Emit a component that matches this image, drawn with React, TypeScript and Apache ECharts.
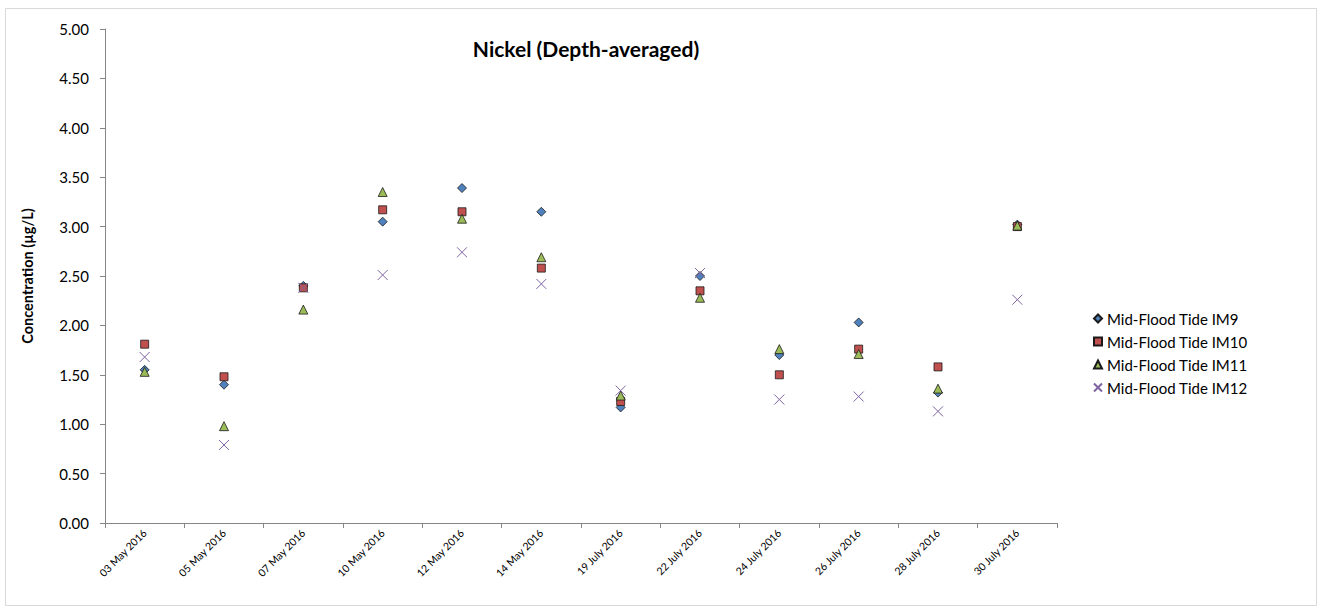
import React, { useEffect, useRef } from "react";
import * as echarts from "echarts";

const categories = [
  "03 May 2016", "05 May 2016", "07 May 2016", "10 May 2016", "12 May 2016", "14 May 2016",
  "19 July 2016", "22 July 2016", "24 July 2016", "26 July 2016", "28 July 2016", "30 July 2016",
];
const im9 = [1.55, 1.40, 2.40, 3.05, 3.39, 3.15, 1.17, 2.50, 1.70, 2.03, 1.32, 3.02];
const im10 = [1.81, 1.48, 2.38, 3.17, 3.15, 2.58, 1.23, 2.35, 1.50, 1.76, 1.58, 3.00];
const im11 = [1.53, 0.98, 2.16, 3.35, 3.08, 2.69, 1.29, 2.28, 1.76, 1.71, 1.36, 3.01];
const im12 = [1.68, 0.79, 2.38, 2.51, 2.74, 2.42, 1.34, 2.53, 1.25, 1.28, 1.13, 2.26];
const seriesNames = ["Mid-Flood Tide IM9", "Mid-Flood Tide IM10", "Mid-Flood Tide IM11", "Mid-Flood Tide IM12"];

const FONT = "Lato, 'Open Sans', sans-serif";

export default function App() {
  const ref = useRef<HTMLDivElement>(null);
  useEffect(() => {
    if (!ref.current) return;
    const chart = echarts.init(ref.current, undefined, { renderer: "svg" });
    const base = { type: "scatter", emphasis: { disabled: true } };
    chart.setOption({
      animation: false,
      backgroundColor: "#ffffff",
      textStyle: { fontFamily: FONT },
      title: {
        text: "Nickel (Depth-averaged)",
        left: 581,
        top: 33,
        textAlign: "center",
        textStyle: { fontFamily: FONT, fontSize: 21, fontWeight: "bold", color: "#000" },
      },
      grid: { left: 105, right: 1320 - 1057, top: 29, bottom: 609 - 523, containLabel: false },
      xAxis: {
        type: "category",
        data: categories,
        boundaryGap: true,
        axisLine: { lineStyle: { color: "#868686", width: 1 } },
        axisTick: { show: true, length: 5, lineStyle: { color: "#868686" } },
        axisLabel: { rotate: 45, fontSize: 10.5, color: "#000", fontFamily: FONT, margin: 8, interval: 0 },
        splitLine: { show: false },
      },
      yAxis: {
        type: "value",
        min: 0,
        max: 5,
        interval: 0.5,
        name: "Concentration (µg/L)",
        nameLocation: "middle",
        nameGap: 70,
        nameTextStyle: { fontFamily: FONT, fontSize: 14.5, fontWeight: "bold", color: "#000" },
        axisLine: { show: true, lineStyle: { color: "#868686", width: 1 } },
        axisTick: { show: true, length: 5, lineStyle: { color: "#868686" } },
        axisLabel: { formatter: (v: number) => v.toFixed(2), fontSize: 15, color: "#000", fontFamily: FONT, margin: 16 },
        splitLine: { show: false },
      },
      legend: {
        orient: "vertical",
        left: 1088,
        top: 306,
        itemWidth: 8,
        itemHeight: 8,
        itemGap: 8,
        textStyle: { fontFamily: FONT, fontSize: 15, color: "#000", lineHeight: 15, padding: [0, 0, 0, 0] },
        data: seriesNames,
      },
      series: [
        {
          ...base,
          name: seriesNames[0],
          data: im9,
          symbol: "diamond",
          symbolSize: 9,
          itemStyle: { color: "#4F81BD", borderColor: "#1a1a1a", borderWidth: 0.8, opacity: 1 },
        },
        {
          ...base,
          name: seriesNames[1],
          data: im10,
          symbol: "rect",
          symbolSize: 8,
          itemStyle: { color: "#C0504D", borderColor: "#1a1a1a", borderWidth: 0.8, opacity: 1 },
        },
        {
          ...base,
          name: seriesNames[2],
          data: im11,
          symbol: "triangle",
          symbolSize: 9,
          itemStyle: { color: "#9BBB59", borderColor: "#1a1a1a", borderWidth: 0.8, opacity: 1 },
        },
        {
          ...base,
          name: seriesNames[3],
          data: im12,
          symbol: "path://M0,0L10,10M10,0L0,10",
          symbolSize: 10,
          itemStyle: { color: "rgba(0,0,0,0)", borderColor: "#8064A2", borderWidth: 1, opacity: 1 },
        },
      ],
      graphic: [
        {
          type: "rect",
          shape: { x: 5.5, y: 8.5, width: 1311, height: 597 },
          style: { fill: "none", stroke: "#D9D9D9", lineWidth: 1 },
          silent: true,
          z: -1,
        },
      ],
    });
    return () => chart.dispose();
  }, []);
  return (
    <div
      ref={ref}
      style={{ position: "absolute", left: 0, top: 0, width: 1320, height: 609 }}
    />
  );
}
